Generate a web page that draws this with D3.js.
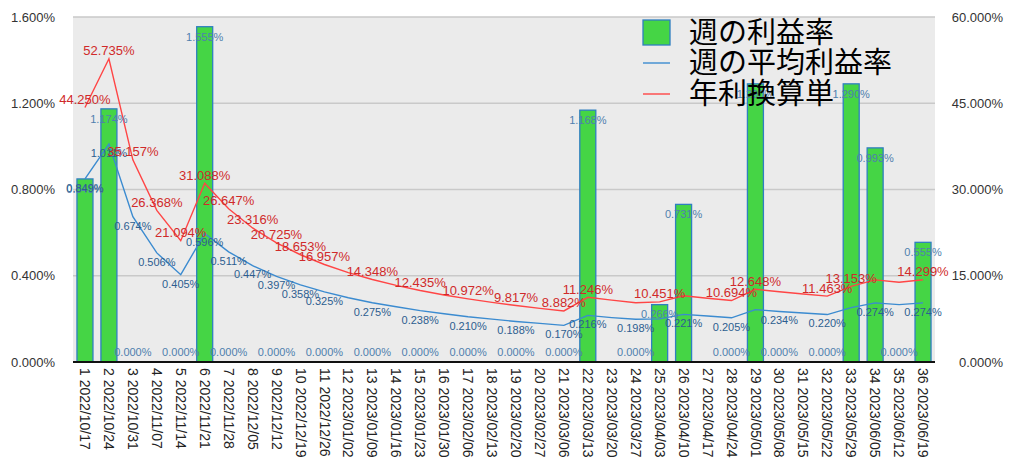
<!DOCTYPE html>
<html>
<head>
<meta charset="utf-8">
<script src="https://cdn.jsdelivr.net/npm/d3@7/dist/d3.min.js"></script>
<style>
  html, body { margin: 0; padding: 0; background: #ffffff; }
  svg { display: block; }
  text { font-family: "Liberation Sans", Arial, sans-serif; }
</style>
</head>
<body>
<svg id="chart" width="1024" height="475"></svg>
<script>
const categories = [
  "1 2022/10/17","2 2022/10/24","3 2022/10/31","4 2022/11/07","5 2022/11/14","6 2022/11/21",
  "7 2022/11/28","8 2022/12/05","9 2022/12/12","10 2022/12/19","11 2022/12/26","12 2023/01/02",
  "13 2023/01/09","14 2023/01/16","15 2023/01/23","16 2023/01/30","17 2023/02/06","18 2023/02/13",
  "19 2023/02/20","20 2023/02/27","21 2023/03/06","22 2023/03/13","23 2023/03/20","24 2023/03/27",
  "25 2023/04/03","26 2023/04/10","27 2023/04/17","28 2023/04/24","29 2023/05/01","30 2023/05/08",
  "31 2023/05/15","32 2023/05/22","33 2023/05/29","34 2023/06/05","35 2023/06/12","36 2023/06/19"
];
// 週の利益率 (%)
const weeklyRate = [0.849,1.174,0,0,0,1.555,0,0,0,0,0,0,0,0,0,0,0,0,0,0,0,1.168,0,0,0.266,0.731,0,0,1.290,0,0,0,1.290,0.993,0,0.555];
// 週の平均利益率 (%)
const avgRate = [0.849,1.011,0.674,0.506,0.405,0.596,0.511,0.447,0.397,0.358,0.325,0.298,0.275,0.256,0.238,0.224,0.210,0.199,0.188,0.179,0.170,0.216,0.206,0.198,0.200,0.221,0.213,0.205,0.243,0.234,0.227,0.220,0.252,0.274,0.266,0.274];
// 年利換算単 (%)
const annualRate = [44.250,52.735,35.157,26.368,21.094,31.088,26.647,23.316,20.725,18.653,16.957,15.544,14.348,13.323,12.435,11.658,10.972,10.362,9.817,9.326,8.882,11.246,10.757,10.309,10.451,11.517,11.091,10.694,12.648,12.226,11.832,11.463,13.153,14.287,13.879,14.299];
const leftTicks = [0, 0.4, 0.8, 1.2, 1.6];
const rightTicks = [0, 15, 30, 45, 60];
const legendLabels = ["週の利益率", "週の平均利益率", "年利換算単"];

const svg = d3.select("#chart");
const plot = { left: 73, right: 935, top: 17, bottom: 362 };

const x = d3.scaleBand().domain(categories).range([plot.left, plot.right]).paddingInner(0.33).paddingOuter(0.165);
const xc = d3.scaleBand().domain(categories).range([plot.left, plot.right]);
const yL = d3.scaleLinear().domain([0, 1.6]).range([plot.bottom, plot.top]);
const yR = d3.scaleLinear().domain([0, 60]).range([plot.bottom, plot.top]);
const fmt = d => d3.format(".3f")(d) + "%";
const cx = i => xc(categories[i]) + xc.bandwidth() / 2;

// background
svg.append("rect").attr("x", plot.left).attr("y", plot.top)
  .attr("width", plot.right - plot.left).attr("height", plot.bottom - plot.top)
  .attr("fill", "#ebebeb");

// grid
svg.append("g").selectAll("line").data(leftTicks.filter(d => d > 0)).join("line")
  .attr("x1", plot.left).attr("x2", plot.right)
  .attr("y1", d => yL(d)).attr("y2", d => yL(d))
  .attr("stroke", "#c9c9c9").attr("stroke-width", 1.5);

// left axis
const gL = svg.append("g").attr("transform", `translate(55,0)`)
  .call(d3.axisLeft(yL).tickValues(leftTicks).tickFormat(fmt).tickSize(0).tickPadding(0));
gL.select(".domain").remove();
gL.selectAll("text").attr("font-size", 13).attr("fill", "#333").attr("font-family", "Liberation Sans, Arial, sans-serif");

// right axis
const gR = svg.append("g").attr("transform", `translate(1003,0)`)
  .call(d3.axisLeft(yR).tickValues(rightTicks).tickFormat(fmt).tickSize(0).tickPadding(0));
gR.select(".domain").remove();
gR.selectAll("text").attr("font-size", 13).attr("fill", "#333").attr("font-family", "Liberation Sans, Arial, sans-serif");

// bars
svg.append("g").selectAll("rect").data(weeklyRate).join("rect")
  .attr("x", (d, i) => cx(i) - 8)
  .attr("width", 16)
  .attr("y", d => yL(d))
  .attr("height", d => plot.bottom - yL(d))
  .attr("fill", "#45d545")
  .attr("stroke", "#2f7fc0").attr("stroke-width", 1.3);

// bottom axis line
svg.append("line").attr("x1", plot.left).attr("x2", plot.right)
  .attr("y1", plot.bottom).attr("y2", plot.bottom)
  .attr("stroke", "#111").attr("stroke-width", 2);

// x labels
const gX = svg.append("g").attr("transform", `translate(0,${plot.bottom})`)
  .call(d3.axisBottom(xc).tickSize(0).tickPadding(0));
gX.select(".domain").remove();
gX.selectAll("text")
  .attr("font-size", 14).attr("fill", "#222")
  .attr("font-family", "Liberation Sans, Arial, sans-serif")
  .attr("text-anchor", "start")
  .attr("dy", "0.35em")
  .attr("transform", "translate(0,6) rotate(90)")
  .attr("y", 0).attr("x", 0);

// lines
const lineL = d3.line().x((d, i) => cx(i)).y(d => yL(d));
const lineR = d3.line().x((d, i) => cx(i)).y(d => yR(d));
svg.append("path").datum(avgRate).attr("d", lineL).attr("fill", "none")
  .attr("stroke", "#3b8bd0").attr("stroke-width", 1.4);
svg.append("path").datum(annualRate).attr("d", lineR).attr("fill", "none")
  .attr("stroke", "#ff4545").attr("stroke-width", 1.4);

// labels with per-series collision avoidance (right to left)
function placeLabels(data, posFn, color, size) {
  const g = svg.append("g");
  const placed = [];
  for (let i = data.length - 1; i >= 0; i--) {
    const p = posFn(data[i], i);
    const t = g.append("text").attr("x", p.x).attr("y", p.y)
      .attr("text-anchor", "middle").attr("dy", "0.35em")
      .attr("font-size", size).attr("fill", color).text(fmt(data[i]));
    const w = t.node().getComputedTextLength();
    const h = size * 0.6;
    const box = { x0: p.x - w / 2, x1: p.x + w / 2, y0: p.y - h / 2, y1: p.y + h / 2 };
    const hit = placed.some(b => box.x0 < b.x1 && box.x1 > b.x0 && box.y0 < b.y1 && box.y1 > b.y0);
    if (hit) t.remove(); else placed.push(box);
  }
}
placeLabels(weeklyRate, (d, i) => ({ x: cx(i), y: Math.min(yL(d) + 10, plot.bottom - 9.5) }), "#4f7fae", 11);
placeLabels(avgRate, (d, i) => ({ x: cx(i), y: yL(d) + 9 }), "#2d5e90", 11);
placeLabels(annualRate, (d, i) => ({ x: cx(i), y: yR(d) - 8 }), "#d02a2a", 13);

// legend
const lg = svg.append("g");
const rowY = [33, 63, 94];
lg.append("rect").attr("x", 643).attr("y", 20).attr("width", 27).attr("height", 25)
  .attr("fill", "#45d545").attr("stroke", "#2f7fc0").attr("stroke-width", 1.3);
lg.append("line").attr("x1", 643).attr("x2", 670).attr("y1", rowY[1]).attr("y2", rowY[1])
  .attr("stroke", "#3b8bd0").attr("stroke-width", 1.4);
lg.append("line").attr("x1", 643).attr("x2", 670).attr("y1", rowY[2]).attr("y2", rowY[2])
  .attr("stroke", "#ff4545").attr("stroke-width", 1.4);
lg.selectAll("text.lg").data(legendLabels).join("text").attr("class", "lg")
  .attr("x", 689).attr("y", (d, i) => rowY[i]).attr("dy", "0.36em")
  .attr("font-size", 29).attr("fill", "#000")
  .style("font-family", "'Noto Sans CJK JP', sans-serif")
  .text(d => d);
</script>
</body>
</html>
